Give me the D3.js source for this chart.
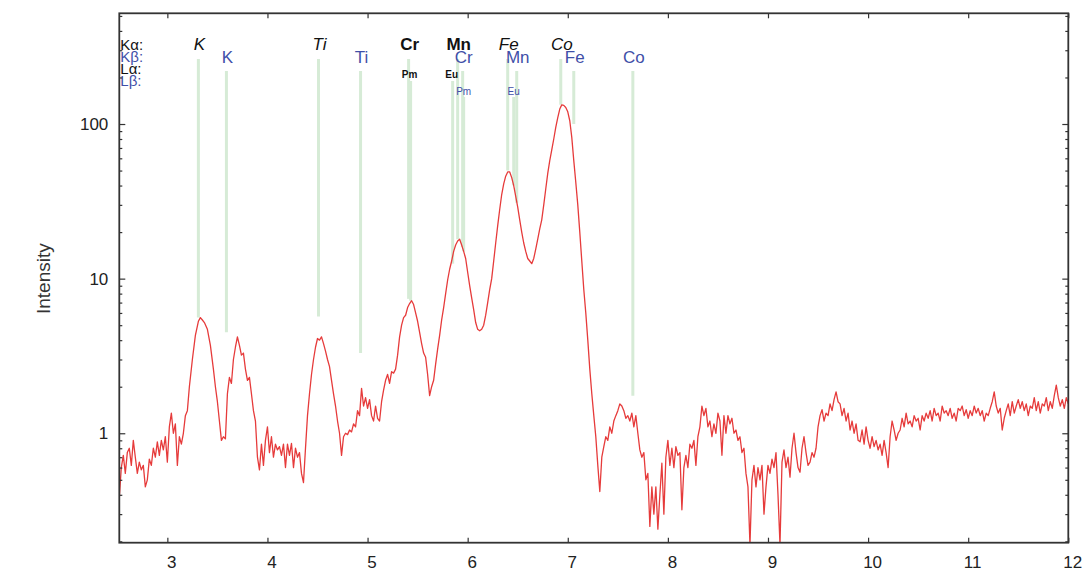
<!DOCTYPE html>
<html>
<head>
<meta charset="utf-8">
<script src="https://cdn.jsdelivr.net/npm/d3@7/dist/d3.min.js"></script>
<style>
  html, body { margin: 0; padding: 0; background: #ffffff; }
  svg { display: block; font-family: "Liberation Sans", Arial, sans-serif; }
</style>
</head>
<body>
<svg id="chart" width="1088" height="576"></svg>
<script>
// ---------- DATA ----------
// X-ray fluorescence spectrum: [energy keV, intensity]
const spectrum = [
[2.52,0.38],[2.54,0.6],[2.56,0.72],[2.58,0.55],[2.60,0.75],[2.62,0.8],[2.64,0.62],[2.66,0.9],[2.68,0.7],[2.70,0.55],
[2.72,0.65],[2.74,0.58],[2.76,0.62],[2.78,0.45],[2.80,0.5],[2.82,0.68],[2.84,0.62],[2.86,0.8],[2.88,0.7],[2.90,0.88],
[2.92,0.72],[2.94,0.9],[2.96,0.78],[2.98,0.95],[3.00,0.65],[3.02,1.1],[3.04,1.35],[3.06,1.0],[3.08,1.15],[3.10,0.62],
[3.12,0.95],[3.14,0.85],[3.16,1.0],[3.18,1.3],[3.20,1.4],[3.22,2.0],[3.25,3.0],[3.28,4.3],[3.31,5.3],[3.33,5.6],
[3.35,5.4],[3.37,5.2],[3.40,4.7],[3.43,3.7],[3.46,2.6],[3.48,2.0],[3.50,1.6],[3.52,1.2],[3.54,0.9],[3.56,0.95],
[3.58,0.92],[3.60,1.8],[3.62,2.3],[3.64,2.1],[3.66,3.0],[3.68,3.6],[3.70,4.2],[3.72,3.7],[3.74,3.2],[3.76,3.3],
[3.78,2.6],[3.80,2.2],[3.82,2.3],[3.84,1.8],[3.86,1.4],[3.88,1.2],[3.90,0.7],[3.92,0.58],[3.94,0.85],[3.96,0.62],
[3.98,0.9],[4.00,1.1],[4.02,0.75],[4.04,0.95],[4.06,0.7],[4.08,0.85],[4.10,0.78],[4.12,0.82],[4.14,0.72],[4.16,0.85],
[4.18,0.6],[4.20,0.85],[4.22,0.72],[4.24,0.86],[4.26,0.6],[4.28,0.8],[4.30,0.7],[4.32,0.75],[4.34,0.55],[4.36,0.48],
[4.38,0.8],[4.40,1.3],[4.42,1.8],[4.44,2.4],[4.46,3.0],[4.48,3.6],[4.50,4.1],[4.52,4.0],[4.54,4.2],[4.56,3.8],
[4.58,3.4],[4.60,3.0],[4.62,2.7],[4.64,2.2],[4.66,1.8],[4.68,1.5],[4.70,1.2],[4.72,1.0],[4.74,0.72],[4.76,0.95],
[4.78,1.0],[4.80,0.98],[4.82,1.05],[4.84,1.02],[4.86,1.15],[4.88,1.1],[4.90,1.4],[4.92,1.3],[4.94,1.95],[4.96,1.5],
[4.98,1.7],[5.00,1.45],[5.02,1.65],[5.04,1.3],[5.06,1.2],[5.08,1.5],[5.10,1.25],[5.12,1.2],[5.14,1.6],[5.16,1.9],
[5.18,2.2],[5.20,2.4],[5.22,2.1],[5.24,2.5],[5.26,2.45],[5.28,2.6],[5.30,3.2],[5.32,4.2],[5.34,5.0],[5.36,5.6],
[5.38,5.8],[5.40,6.5],[5.42,6.9],[5.44,7.2],[5.46,6.8],[5.48,6.0],[5.50,5.3],[5.52,4.5],[5.54,3.8],[5.56,3.3],
[5.58,3.1],[5.60,2.4],[5.62,1.75],[5.64,2.0],[5.66,2.2],[5.68,2.8],[5.70,3.5],[5.72,4.3],[5.74,5.4],[5.76,6.5],
[5.78,8.0],[5.80,9.8],[5.82,11.5],[5.84,13],[5.86,15],[5.88,16.5],[5.90,17.5],[5.92,18],[5.94,16.5],[5.96,15],
[5.98,13.5],[6.00,11],[6.02,9],[6.04,7.5],[6.06,6.3],[6.08,5.2],[6.10,4.7],[6.12,4.6],[6.14,4.7],[6.16,5.0],
[6.18,5.8],[6.20,7.0],[6.22,8.5],[6.24,10],[6.26,13],[6.28,17],[6.30,22],[6.32,28],[6.34,35],[6.36,41],
[6.38,46],[6.40,49],[6.42,49],[6.44,45],[6.46,40],[6.48,34],[6.50,29],[6.52,24],[6.54,20],[6.56,17],
[6.58,15],[6.60,13.5],[6.62,13],[6.64,12.5],[6.66,13.5],[6.68,15.5],[6.70,18],[6.72,21],[6.74,24],[6.76,30],
[6.78,38],[6.80,48],[6.82,58],[6.84,68],[6.86,80],[6.88,95],[6.90,110],[6.92,125],[6.94,133],[6.96,132],
[6.98,128],[7.00,120],[7.02,105],[7.04,82],[7.06,58],[7.08,42],[7.10,30],[7.12,20],[7.14,13],[7.16,8.5],
[7.18,6],[7.20,4],[7.22,2.6],[7.24,1.8],[7.26,1.3],[7.28,0.95],[7.30,0.62],[7.32,0.42],[7.34,0.7],[7.36,0.82],
[7.38,0.95],[7.40,0.9],[7.42,1.1],[7.44,1.0],[7.46,1.2],[7.48,1.3],[7.50,1.4],[7.52,1.55],[7.54,1.5],[7.56,1.4],
[7.58,1.25],[7.60,1.3],[7.62,1.2],[7.64,1.35],[7.66,1.1],[7.68,1.3],[7.70,1.0],[7.72,0.78],[7.74,0.7],[7.76,0.75],
[7.78,0.5],[7.80,0.55],[7.82,0.25],[7.84,0.45],[7.86,0.3],[7.88,0.45],[7.90,0.24],[7.92,0.4],[7.94,0.64],[7.96,0.3],
[7.98,0.7],[8.00,0.9],[8.02,0.62],[8.04,0.8],[8.06,0.6],[8.08,0.82],[8.10,0.72],[8.12,0.75],[8.14,0.32],[8.16,0.6],
[8.18,0.72],[8.20,0.6],[8.22,0.85],[8.24,0.8],[8.26,0.9],[8.28,0.62],[8.30,0.95],[8.32,1.1],[8.34,1.5],[8.36,1.3],
[8.38,1.45],[8.40,1.1],[8.42,1.2],[8.44,0.95],[8.46,1.15],[8.48,1.0],[8.50,1.35],[8.52,1.2],[8.54,0.72],[8.56,1.3],
[8.58,1.0],[8.60,1.3],[8.62,1.15],[8.64,1.25],[8.66,1.0],[8.68,1.05],[8.70,0.9],[8.72,0.95],[8.74,0.75],[8.76,0.8],
[8.78,0.55],[8.80,0.45],[8.82,0.19],[8.84,0.5],[8.86,0.62],[8.88,0.45],[8.90,0.6],[8.92,0.5],[8.94,0.62],[8.96,0.3],
[8.98,0.45],[9.00,0.62],[9.02,0.55],[9.04,0.68],[9.06,0.6],[9.08,0.75],[9.10,0.4],[9.12,0.19],[9.14,0.65],[9.16,0.78],
[9.18,0.6],[9.20,0.7],[9.22,0.52],[9.24,0.8],[9.26,1.0],[9.28,0.75],[9.30,0.6],[9.32,0.56],[9.34,0.8],[9.36,0.95],
[9.38,0.75],[9.40,0.62],[9.42,0.65],[9.44,0.75],[9.46,0.7],[9.48,0.8],[9.50,1.1],[9.52,1.3],[9.54,1.42],[9.56,1.2],
[9.58,1.35],[9.60,1.3],[9.62,1.55],[9.64,1.4],[9.66,1.65],[9.68,1.85],[9.70,1.6],[9.72,1.55],[9.74,1.3],[9.76,1.45],
[9.78,1.2],[9.80,1.35],[9.82,1.05],[9.84,1.2],[9.86,1.0],[9.88,1.15],[9.90,0.9],[9.92,0.88],[9.94,1.05],[9.96,0.85],
[9.98,1.1],[10.00,0.9],[10.02,0.8],[10.04,0.95],[10.06,0.82],[10.08,0.9],[10.10,0.78],[10.12,0.85],[10.14,0.72],[10.16,0.9],
[10.18,0.75],[10.20,0.6],[10.22,0.95],[10.24,1.2],[10.26,1.05],[10.28,0.9],[10.30,1.0],[10.32,1.05],[10.34,1.25],[10.36,1.1],
[10.38,1.35],[10.40,1.15],[10.42,1.2],[10.44,1.1],[10.46,1.3],[10.48,1.2],[10.50,1.25],[10.52,1.05],[10.54,1.3],[10.56,1.2],
[10.58,1.35],[10.60,1.25],[10.62,1.4],[10.64,1.2],[10.66,1.45],[10.68,1.3],[10.70,1.35],[10.72,1.2],[10.74,1.5],[10.76,1.35],
[10.78,1.4],[10.80,1.3],[10.82,1.45],[10.84,1.25],[10.86,1.35],[10.88,1.2],[10.90,1.45],[10.92,1.4],[10.94,1.5],[10.96,1.3],
[10.98,1.42],[11.00,1.25],[11.02,1.4],[11.04,1.3],[11.06,1.5],[11.08,1.35],[11.10,1.45],[11.12,1.3],[11.14,1.4],[11.16,1.2],
[11.18,1.35],[11.20,1.3],[11.22,1.45],[11.24,1.6],[11.26,1.85],[11.28,1.5],[11.30,1.35],[11.32,1.45],[11.34,1.05],[11.36,1.25],
[11.38,1.4],[11.40,1.55],[11.42,1.3],[11.44,1.6],[11.46,1.35],[11.48,1.5],[11.50,1.65],[11.52,1.45],[11.54,1.6],[11.56,1.4],
[11.58,1.55],[11.60,1.3],[11.62,1.5],[11.64,1.45],[11.66,1.7],[11.68,1.4],[11.70,1.6],[11.72,1.35],[11.74,1.55],[11.76,1.5],
[11.78,1.7],[11.80,1.4],[11.82,1.6],[11.84,1.45],[11.86,1.75],[11.88,2.05],[11.90,1.7],[11.92,1.5],[11.94,1.65],[11.96,1.45],
[11.98,1.7],[12.00,1.55]
];

// Emission lines: element, energy (keV), intensity where the marker line ends
const kAlphaLines = [
  {el: "K",  e: 3.31, end: 5.6},
  {el: "Ti", e: 4.51, end: 5.7},
  {el: "Cr", e: 5.41, end: 7.4},
  {el: "Mn", e: 5.90, end: 18},
  {el: "Fe", e: 6.40, end: 50},
  {el: "Co", e: 6.93, end: 133}
];
const kBetaLines = [
  {el: "K",  e: 3.59, end: 4.5},
  {el: "Ti", e: 4.93, end: 3.3},
  {el: "Cr", e: 5.95, end: 16},
  {el: "Mn", e: 6.49, end: 31},
  {el: "Fe", e: 7.06, end: 100},
  {el: "Co", e: 7.65, end: 1.75}
];
const lAlphaLines = [
  {el: "Pm", e: 5.43, end: 7.2},
  {el: "Eu", e: 5.85, end: 12.5}
];
const lBetaLines = [
  {el: "Pm", e: 5.96, end: 15},
  {el: "Eu", e: 6.46, end: 40}
];
const rowTitles = ["K\u03b1:", "K\u03b2:", "L\u03b1:", "L\u03b2:"];
const xTicks = [3, 4, 5, 6, 7, 8, 9, 10, 11, 12];
const yTicks = [1, 10, 100];
const yMinorTicks = [0.2,0.3,0.4,0.5,0.6,0.7,0.8,0.9,2,3,4,5,6,7,8,9,20,30,40,50,60,70,80,90,200,300,400,500];
const yLabel = "Intensity";

// ---------- STYLE / LAYOUT ----------
const plot = {left: 119.3, right: 1068.3, top: 13.3, bottom: 542.7};
const kAlphaStyle = {K: "italic", Ti: "italic", Cr: "bold", Mn: "bold", Fe: "italic", Co: "italic"};
const blue = "#3f4fa8";
const lineGreen = "#d6ebd6";

const svg = d3.select("#chart");

const x = d3.scaleLinear().domain([2.52, 12]).range([plot.left, plot.right]);
const y = d3.scaleLog().domain([0.196, 520]).range([plot.bottom, plot.top]);

svg.append("defs").append("clipPath").attr("id", "clip")
  .append("rect").attr("x", plot.left).attr("y", plot.top)
  .attr("width", plot.right - plot.left).attr("height", plot.bottom - plot.top);

// ---------- emission marker lines ----------
const rows = [
  {data: kAlphaLines, top: 59},
  {data: kBetaLines,  top: 71},
  {data: lAlphaLines, top: 81},
  {data: lBetaLines,  top: 97}
];
const gLines = svg.append("g").attr("clip-path", "url(#clip)");
rows.forEach(r => {
  gLines.selectAll(null).data(r.data).enter().append("line")
    .attr("x1", d => x(d.e)).attr("x2", d => x(d.e))
    .attr("y1", r.top).attr("y2", d => y(d.end))
    .attr("stroke", lineGreen).attr("stroke-width", 3);
});

// ---------- spectrum ----------
const line = d3.line().x(d => x(d[0])).y(d => y(d[1]));
svg.append("path").datum(spectrum)
  .attr("clip-path", "url(#clip)")
  .attr("d", line)
  .attr("fill", "none")
  .attr("stroke", "#e63b3b")
  .attr("stroke-width", 1.3)
  .attr("stroke-linejoin", "round");

// ---------- labels for lines ----------
const gLab = svg.append("g");
gLab.selectAll(null).data(kAlphaLines).enter().append("text")
  .attr("x", d => x(d.e) + 1).attr("y", 50)
  .attr("text-anchor", "middle")
  .attr("font-size", 17)
  .attr("font-style", d => kAlphaStyle[d.el] === "italic" ? "italic" : "normal")
  .attr("font-weight", d => kAlphaStyle[d.el] === "bold" ? "bold" : "normal")
  .attr("fill", "#111")
  .text(d => d.el);
gLab.selectAll(null).data(kBetaLines).enter().append("text")
  .attr("x", d => x(d.e) + 1).attr("y", 63)
  .attr("text-anchor", "middle")
  .attr("font-size", 17)
  .attr("fill", blue)
  .text(d => d.el);
gLab.selectAll(null).data(lAlphaLines).enter().append("text")
  .attr("x", d => x(d.e) - 1).attr("y", 78)
  .attr("text-anchor", "middle")
  .attr("font-size", 10)
  .attr("font-weight", "bold")
  .attr("fill", "#111")
  .text(d => d.el);
gLab.selectAll(null).data(lBetaLines).enter().append("text")
  .attr("x", d => x(d.e)).attr("y", 95)
  .attr("text-anchor", "middle")
  .attr("font-size", 10)
  .attr("fill", blue)
  .text(d => d.el);

// row titles (stacked tightly as in the original)
const titleY = [50, 62, 74, 86];
gLab.selectAll(null).data(rowTitles).enter().append("text")
  .attr("x", plot.left + 1).attr("y", (d, i) => titleY[i])
  .attr("font-size", 15)
  .attr("fill", (d, i) => i % 2 === 0 ? "#111" : blue)
  .text(d => d);

// ---------- axes ----------
const axisColor = "#333";
function styleAxis(g) {
  g.select(".domain").remove();
  g.selectAll(".tick line").attr("stroke", axisColor).attr("stroke-width", 1.2);
  g.selectAll(".tick text").attr("fill", "#222").attr("font-size", 17)
    .attr("font-family", "'Liberation Sans', Arial, sans-serif");
}
svg.append("g").attr("transform", `translate(0,${plot.bottom})`)
  .call(d3.axisBottom(x).tickValues(xTicks).tickFormat(d3.format("d")).tickSize(-5).tickPadding(13))
  .call(styleAxis)
  .selectAll(".tick text").attr("dx", 4);
svg.append("g").attr("transform", `translate(0,${plot.top})`)
  .call(d3.axisTop(x).tickValues(xTicks).tickFormat("").tickSize(-5))
  .call(styleAxis);
svg.append("g").attr("transform", `translate(${plot.left},0)`)
  .call(d3.axisLeft(y).tickValues(yTicks).tickFormat(d3.format("d")).tickSize(-6).tickPadding(11))
  .call(styleAxis);
svg.append("g").attr("transform", `translate(${plot.left},0)`)
  .call(d3.axisLeft(y).tickValues(yMinorTicks).tickFormat("").tickSize(-3))
  .call(styleAxis);
svg.append("g").attr("transform", `translate(${plot.right},0)`)
  .call(d3.axisRight(y).tickValues(yTicks).tickFormat("").tickSize(-6))
  .call(styleAxis);
svg.append("g").attr("transform", `translate(${plot.right},0)`)
  .call(d3.axisRight(y).tickValues(yMinorTicks).tickFormat("").tickSize(-3))
  .call(styleAxis);

// frame
svg.append("rect")
  .attr("x", plot.left).attr("y", plot.top)
  .attr("width", plot.right - plot.left).attr("height", plot.bottom - plot.top)
  .attr("fill", "none").attr("stroke", axisColor).attr("stroke-width", 1.8);

// y label
svg.append("text")
  .attr("transform", `translate(50,${y(10)}) rotate(-90)`)
  .attr("text-anchor", "middle")
  .attr("font-size", 19)
  .attr("fill", "#333")
  .text(yLabel);
</script>
</body>
</html>
